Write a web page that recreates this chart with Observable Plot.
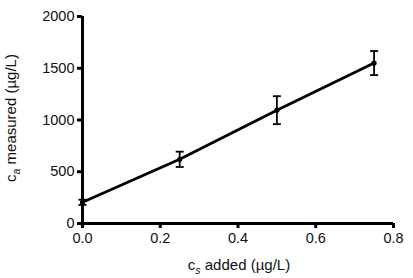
<!DOCTYPE html>
<html>
<head>
<meta charset="utf-8">
<script src="https://cdn.jsdelivr.net/npm/d3@7"></script>
<script src="https://cdn.jsdelivr.net/npm/@observablehq/plot@0.6"></script>
<style>
  html, body { margin: 0; padding: 0; background: #fff; }
</style>
</head>
<body>
<div id="chart"></div>
<script>
// Data
const added = [0, 0.25, 0.5, 0.75];          // cs added (µg/L)
const measured = [205, 620, 1095, 1550];     // ca measured (µg/L)
const errors = [25, 74, 135, 116];           // error bar half-lengths
const xTicks = [0, 0.2, 0.4, 0.6, 0.8];
const yTicks = [0, 500, 1000, 1500, 2000];

const data = added.map((x, i) => ({x, y: measured[i], lo: measured[i] - errors[i], hi: measured[i] + errors[i]}));

const capSymbol = {
  draw(context) {
    context.moveTo(-4, 0);
    context.lineTo(4, 0);
  }
};

const chart = Plot.plot({
  width: 413,
  height: 278,
  marginLeft: 82,
  marginRight: 20,
  marginTop: 16,
  marginBottom: 55,
  style: {fontSize: "14.5px", fontFamily: "'Liberation Sans', Arial, sans-serif", color: "#000", background: "#fff"},
  x: {domain: [0, 0.8]},
  y: {domain: [0, 2000]},
  marks: [
    Plot.axisX({ticks: xTicks, tickFormat: d3.format(".1f"), tickSize: 5, tickPadding: 4, strokeWidth: 3, label: null, fill: "#111"}),
    Plot.axisY({ticks: yTicks, tickFormat: d3.format("d"), tickSize: 5, tickPadding: 3, strokeWidth: 3, label: null, fill: "#111"}),
    Plot.ruleX([0], {y1: 0, y2: 2000, strokeWidth: 3}),
    Plot.ruleY([0], {x1: 0, x2: 0.8, strokeWidth: 3}),
    Plot.line(data, {x: "x", y: "y", strokeWidth: 2.8, stroke: "#000"}),
    Plot.ruleX(data, {x: "x", y1: "lo", y2: "hi", strokeWidth: 1.8, stroke: "#000"}),
    Plot.dot(data, {x: "x", y: "lo", symbol: capSymbol, stroke: "#000", strokeWidth: 1.8}),
    Plot.dot(data, {x: "x", y: "hi", symbol: capSymbol, stroke: "#000", strokeWidth: 1.8}),
    Plot.dot(data, {x: "x", y: "y", r: 2.6, fill: "#000"})
  ]
});

const svg = d3.select(chart);
// x axis label with subscript
const xl = svg.append("text")
  .attr("x", 239).attr("y", 270)
  .attr("text-anchor", "middle")
  .attr("font-size", 15)
  .attr("fill", "#111");
xl.append("tspan").text("c");
xl.append("tspan").attr("font-size", 10.5).attr("font-style", "italic").attr("dy", 4).text("s");
xl.append("tspan").attr("dy", -4).text(" added (µg/L)");

// y axis label with subscript
const yl = svg.append("text")
  .attr("transform", "translate(16,118) rotate(-90)")
  .attr("text-anchor", "middle")
  .attr("font-size", 15)
  .attr("fill", "#111");
yl.append("tspan").text("c");
yl.append("tspan").attr("font-size", 10.5).attr("font-style", "italic").attr("dy", 4).text("a");
yl.append("tspan").attr("dy", -4).text(" measured (µg/L)");

document.getElementById("chart").appendChild(chart);
</script>
</body>
</html>
